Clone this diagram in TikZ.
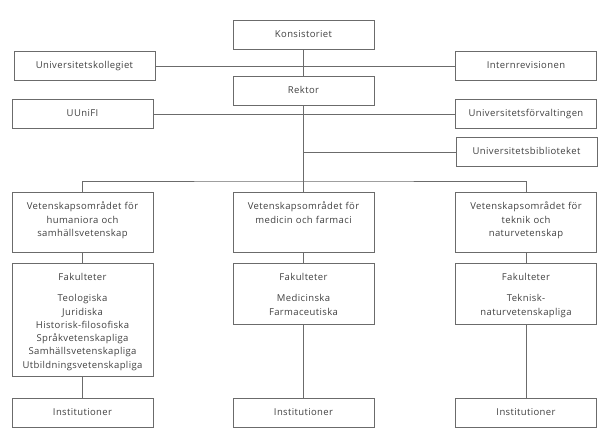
\documentclass[tikz,border=0pt]{standalone}
\usepackage{fontspec}
\setmainfont[LetterSpace=4]{Open Sans}
\usepackage{tikz}
\usetikzlibrary{positioning,calc}

\definecolor{linegray}{HTML}{6B6B6B}
\definecolor{textgray}{HTML}{404040}

\begin{document}
\begin{tikzpicture}[x=1pt,y=-1pt,
    box/.style={draw=linegray,line width=0.9pt,anchor=north,text=textgray,
      text width=135pt,align=center,inner xsep=3pt,inner ysep=10pt,
      text height=7pt,text depth=2pt,font=\fontsize{9.5}{13.6}\selectfont},
    tall/.style={text depth=#1},
    link/.style={draw=linegray,line width=0.9pt}]
    \useasboundingbox (0,0) rectangle (600,432);
    % Ledning
    \node[box] (kons) at (303.5,20) {Konsistoriet};
    \node[box] (koll) at (84.5,51) {Universitetskollegiet};
    \node[box] (intern) at (526,51) {Internrevisionen};
    \node[box] (rektor) at (303.5,76) {Rektor};
    \node[box] (uunifi) at (82.5,99) {UUniFI};
    \node[box] (forv) at (526,99) {Universitetsförvaltingen};
    \node[box] (bibl) at (526.5,137) {Universitetsbiblioteket};
    
    % Vetenskapsområden
    \node[box,tall=33pt] (vethum) at (82.5,192) {Vetenskapsområdet för\\humaniora och\\samhällsvetenskap};
    \node[box,tall=33pt] (vetmed) at (303.5,192) {Vetenskapsområdet för\\medicin och farmaci};
    \node[box,tall=33pt] (vettek) at (526,192) {Vetenskapsområdet för\\teknik och\\naturvetenskap};
    
    % Fakulteter
    \node[box,tall=86pt,font=\fontsize{9.5}{13.3}\selectfont] (fakhum) at (82.5,263) {Fakulteter\\[8pt]Teologiska\\Juridiska\\Historisk-filosofiska\\Språkvetenskapliga\\Samhällsvetenskapliga\\Utbildningsvetenskapliga};
    \node[box,tall=34pt,font=\fontsize{9.5}{13.3}\selectfont] (fakmed) at (303.5,263) {Fakulteter\\[8pt]Medicinska\\Farmaceutiska};
    \node[box,tall=34pt,font=\fontsize{9.5}{13.3}\selectfont] (faktek) at (526,263) {Fakulteter\\[8pt]Teknisk-\\naturvetenskapliga};
    
    % Institutioner
    \node[box] (insthum) at (82.5,398) {Institutioner};
    \node[box] (instmed) at (303.5,398) {Institutioner};
    \node[box] (insttek) at (526,398) {Institutioner};
    
    \coordinate (bar) at (303.5,181);
    
    \draw[link] (koll) -- (intern);
    \draw[link] (uunifi) -- (forv);
    \draw[link] (kons) -- (rektor);
    \draw[link] (rektor) -- (vetmed);
    \draw[link] (bibl.west) -- (bibl.west -| rektor);
    \draw[link] (vethum.north) |- (bar) -| (vettek.north);
    \draw[link] (vethum) -- (fakhum);
    \draw[link] (fakhum) -- (insthum);
    \draw[link] (vetmed) -- (fakmed);
    \draw[link] (fakmed) -- (instmed);
    \draw[link] (vettek) -- (faktek);
    \draw[link] (faktek) -- (insttek);
\end{tikzpicture}
\end{document}
